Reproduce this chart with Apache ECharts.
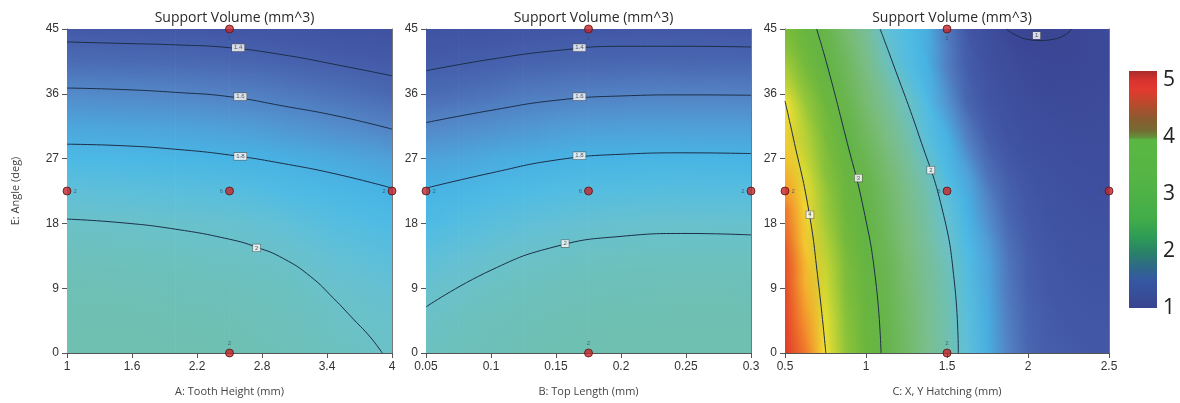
<!DOCTYPE html>
<html><head><meta charset="utf-8">
<script src="https://cdn.jsdelivr.net/npm/echarts@6/dist/echarts.min.js"></script>
<style>html,body{margin:0;padding:0;background:#fff}#c{width:1180px;height:403px}</style>
</head><body><div id="c"></div>
<script>
// ---------------- DATA ----------------
const chartTitle = 'Support Volume (mm^3)';
const angleName = 'E: Angle (deg)';
const xNames = ['A: Tooth Height (mm)', 'B: Top Length (mm)', 'C: X, Y Hatching (mm)'];
const angleTicks = [0, 9, 18, 27, 36, 45];
const toothTicks = [1, 1.6, 2.2, 2.8, 3.4, 4];
const topTicks = [0.05, 0.1, 0.15, 0.2, 0.25, 0.3];
const hatchTicks = [0.5, 1, 1.5, 2, 2.5];
const legendTicks = [1, 2, 3, 4, 5];

// Panel 1: response at A columns (rows = angleRows)
const angleRows = [0, 4.5, 9, 13.5, 18, 22.5, 27, 31.5, 36, 40.5, 45];
const toothCols = [1, 1.5, 2, 2.5, 3, 3.5, 4];
const toothVals = [
  [2.12, 2.11, 2.09, 2.06, 2.01, 1.94, 1.85, 1.74, 1.63, 1.5, 1.34],
  [2.12, 2.11, 2.085, 2.05, 2.0, 1.93, 1.84, 1.73, 1.62, 1.49, 1.33],
  [2.115, 2.1, 2.075, 2.04, 1.99, 1.92, 1.83, 1.72, 1.61, 1.48, 1.32],
  [2.105, 2.09, 2.065, 2.025, 1.975, 1.905, 1.81, 1.7, 1.59, 1.46, 1.3],
  [2.08, 2.065, 2.04, 1.995, 1.945, 1.875, 1.785, 1.67, 1.56, 1.43, 1.28],
  [2.045, 2.02, 1.99, 1.95, 1.9, 1.835, 1.75, 1.635, 1.52, 1.39, 1.25],
  [2.01, 1.99, 1.96, 1.92, 1.87, 1.8, 1.71, 1.59, 1.47, 1.35, 1.22]
];
// Panel 2: response at B columns
const topCols = [0.05, 0.075, 0.1, 0.125, 0.15, 0.175, 0.2, 0.25, 0.3];
const topVals = [
  [2.04, 2.015, 1.98, 1.93, 1.87, 1.805, 1.72, 1.61, 1.49, 1.36, 1.24],
  [2.065, 2.045, 2.002, 1.955, 1.895, 1.825, 1.74, 1.63, 1.51, 1.385, 1.26],
  [2.08, 2.065, 2.03, 1.98, 1.92, 1.85, 1.76, 1.65, 1.53, 1.405, 1.27],
  [2.095, 2.08, 2.05, 1.998, 1.94, 1.87, 1.775, 1.665, 1.56, 1.425, 1.285],
  [2.105, 2.09, 2.065, 2.015, 1.955, 1.885, 1.795, 1.685, 1.575, 1.44, 1.3],
  [2.11, 2.1, 2.075, 2.03, 1.97, 1.895, 1.805, 1.695, 1.585, 1.45, 1.31],
  [2.115, 2.105, 2.08, 2.037, 1.977, 1.9, 1.81, 1.7, 1.59, 1.455, 1.315],
  [2.12, 2.11, 2.085, 2.042, 1.982, 1.905, 1.815, 1.703, 1.595, 1.46, 1.32],
  [2.12, 2.11, 2.083, 2.04, 1.98, 1.903, 1.813, 1.702, 1.593, 1.458, 1.318]
];
// Panel 3: response along C (columns) for each angle row
const hatchCols = [0.5, 0.625, 0.75, 0.875, 1, 1.125, 1.25, 1.375, 1.5, 1.625, 1.75, 1.875, 2, 2.125, 2.25, 2.375, 2.5];
const hatchRows = [0, 5, 10, 15, 20, 25, 30, 35, 40, 45];
const hatchVals = [
  [5.0, 4.5, 4.01, 3.6, 3.25, 2.93, 2.67, 2.41, 2.15, 1.94, 1.78, 1.6, 1.46, 1.39, 1.36, 1.34, 1.34],
  [4.88, 4.37, 3.93, 3.53, 3.2, 2.9, 2.64, 2.38, 2.13, 1.92, 1.77, 1.58, 1.44, 1.36, 1.32, 1.3, 1.3],
  [4.8, 4.24, 3.83, 3.45, 3.13, 2.84, 2.59, 2.34, 2.09, 1.9, 1.74, 1.55, 1.41, 1.33, 1.29, 1.27, 1.27],
  [4.7, 4.13, 3.74, 3.37, 3.05, 2.77, 2.52, 2.28, 2.02, 1.86, 1.7, 1.52, 1.38, 1.3, 1.25, 1.23, 1.23],
  [4.5, 4.06, 3.64, 3.28, 2.97, 2.7, 2.45, 2.2, 1.95, 1.8, 1.62, 1.45, 1.33, 1.25, 1.21, 1.19, 1.19],
  [4.25, 3.88, 3.52, 3.18, 2.88, 2.61, 2.36, 2.07, 1.87, 1.72, 1.52, 1.37, 1.27, 1.2, 1.17, 1.15, 1.15],
  [4.1, 3.75, 3.4, 3.0, 2.73, 2.47, 2.2, 1.92, 1.8, 1.58, 1.4, 1.25, 1.17, 1.13, 1.11, 1.1, 1.11],
  [4.0, 3.62, 3.27, 2.88, 2.58, 2.32, 2.04, 1.87, 1.66, 1.44, 1.28, 1.17, 1.1, 1.07, 1.06, 1.06, 1.08],
  [3.68, 3.36, 3.04, 2.74, 2.45, 2.08, 1.9, 1.8, 1.58, 1.38, 1.2, 1.1, 1.03, 1.01, 1.02, 1.03, 1.05],
  [3.42, 3.16, 2.9, 2.6, 2.32, 1.95, 1.88, 1.78, 1.55, 1.3, 1.15, 1.0, 0.975, 0.97, 0.995, 1.03, 1.07]
];

// Contour lines [x, angle]
const toothC14 = [[1,43.2],[1.5,43.0],[2,42.8],[2.5,42.4],[3,41.4],[3.5,40.0],[4,38.5]];
const toothC16 = [[1,36.8],[1.5,36.6],[2,36.2],[2.5,35.6],[3,34.3],[3.5,32.9],[4,31.1]];
const toothC18 = [[1,29.0],[1.5,28.8],[2,28.3],[2.5,27.5],[3,26.3],[3.5,24.8],[4,22.9]];
const toothC20 = [[1,18.6],[1.5,18.1],[2,17.2],[2.5,15.8],[2.75,14.7],[3,13.1],[3.25,10.6],[3.46,7.6],[3.65,4.6],[3.8,2.2],[3.91,0]];
const topC14 = [[0.05,39.2],[0.1,40.8],[0.15,42.0],[0.2,42.6],[0.25,42.6],[0.3,42.5]];
const topC16 = [[0.05,32.0],[0.1,33.7],[0.15,35.1],[0.2,35.7],[0.25,35.85],[0.3,35.8]];
const topC18 = [[0.05,22.9],[0.1,25.0],[0.15,26.8],[0.2,27.6],[0.25,27.8],[0.3,27.7]];
const topC20 = [[0.05,6.4],[0.1,11.5],[0.15,14.8],[0.2,16.2],[0.25,16.6],[0.3,16.4]];
const hatchC4 = [[0.752,0],[0.705,10],[0.645,20],[0.55,30],[0.5,35]];
const hatchC3 = [[1.093,0],[1.06,10],[0.985,20],[0.875,30],[0.76,40],[0.695,45]];
const hatchC2 = [[1.57,0],[1.545,10],[1.47,20],[1.33,30],[1.17,40],[1.087,45]];
const hatchC1 = [[1.868,45],[1.92,44.2],[2.0,43.55],[2.074,43.4],[2.15,43.55],[2.23,44.2],[2.27,45]];

// Contour label boxes [x, angle, text]
const toothLabels = [[2.58,42.4,'1.4'],[2.6,35.6,'1.6'],[2.6,27.3,'1.8'],[2.75,14.6,'2']];
const topLabels = [[0.168,42.4,'1.4'],[0.168,35.6,'1.6'],[0.168,27.4,'1.8'],[0.157,15.2,'2']];
const hatchLabels = [[0.654,19.2,'4'],[0.953,24.3,'3'],[1.40,25.4,'2'],[2.053,44.1,'1']];

// Design points [x, angle, replicate count]
const toothPts = [[1,22.5,'2'],[2.5,22.5,'6'],[4,22.5,'2'],[2.5,45,'1'],[2.5,0,'2']];
const topPts = [[0.05,22.5,'2'],[0.175,22.5,'6'],[0.3,22.5,'2'],[0.175,45,'1'],[0.175,0,'2']];
const hatchPts = [[0.5,22.5,'2'],[1.5,22.5,'6'],[2.5,22.5,'2'],[1.5,45,'1'],[1.5,0,'2']];

// ---------------- STYLE ----------------
const cmapV = [0.95,1.0,1.15,1.3,1.4,1.5,1.6,1.7,1.8,1.87,1.95,2.0,2.1,2.25,2.5,2.8,3.0,3.3,3.6,3.85,4.0,4.3,4.5,4.8,5.0];
const cmapC = ['#39438f','#3b4796','#3e4e9e','#4156a5','#455eab','#4b6cb5','#5483c4','#509ed7','#46b3e4','#4ebbe5','#62c0d6','#6bc1c9','#6ec0b3','#76bfa1','#7cbd7e','#6cb653','#61b345','#6cb63c','#8fc43a','#d2da31','#f1e132','#f6a92c','#f0772b','#e6482a','#e0392a'];
function cmap(v){
  if (v <= cmapV[0]) return cmapC[0];
  for (let k = 1; k < cmapV.length; k++) {
    if (v <= cmapV[k]) {
      const t = (v - cmapV[k-1]) / (cmapV[k] - cmapV[k-1]);
      return echarts.color.lerp(t, [cmapC[k-1], cmapC[k]]);
    }
  }
  return cmapC[cmapC.length-1];
}
const barStops = [[0,'#a82c28'],[0.04,'#d83330'],[0.08,'#e23a2e'],[0.14,'#b84a2c'],[0.2,'#8c5a30'],[0.25,'#746c32'],[0.28,'#64903a'],[0.29,'#5ab742'],[0.45,'#55b544'],[0.62,'#42ad48'],[0.7,'#2e9c55'],[0.76,'#2a8466'],[0.82,'#2d6c84'],[0.88,'#3558a2'],[1,'#3a4490']];

const lineColor = '#1c2e48';
const tickFont = {fontFamily:'Liberation Sans, Arial, sans-serif', fontSize:12, color:'#333'};
const nameFont = {fontFamily:'Open Sans, sans-serif', fontSize:11, color:'#444'};
const STRIP = 2; // px, width of blending strips between sampled columns/rows

const chart = echarts.init(document.getElementById('c'));

const panels = [
  {left:67, width:325, min:1, max:4, ticks:toothTicks},
  {left:426, width:325, min:0.05, max:0.3, ticks:topTicks},
  {left:785, width:324, min:0.5, max:2.5, ticks:hatchTicks}
];
const top0 = 29, h0 = 324;
const grids = panels.map(p => ({left:p.left, top:top0, width:p.width, height:h0}));
grids.push({left:1129, top:80, width:28, height:228});

const xAxes = [], yAxes = [];
panels.forEach((p, i) => {
  xAxes.push({gridIndex:i, type:'value', min:p.min, max:p.max,
    name:xNames[i], nameLocation:'middle', nameGap:33, nameTextStyle:nameFont,
    axisLine:{show:true, onZero:false, lineStyle:{color:'#555', width:1}},
    axisTick:{show:true, length:5, customValues:p.ticks, lineStyle:{color:'#555'}},
    axisLabel:{customValues:p.ticks, margin:8, ...tickFont},
    splitLine:{show:false}});
  yAxes.push({gridIndex:i, type:'value', min:0, max:45, interval:9,
    name: i === 0 ? angleName : '', nameLocation:'middle', nameGap:46, nameRotate:90, nameTextStyle:nameFont,
    axisLine:{show:true, onZero:false, lineStyle:{color:'#555', width:1}},
    axisTick:{show:true, length:5, lineStyle:{color:'#555'}},
    axisLabel:{margin:8, ...tickFont},
    splitLine:{show:false}});
});
// colorbar axes
xAxes.push({gridIndex:3, type:'value', min:0, max:1, show:false});
yAxes.push({gridIndex:3, type:'value', min:1, max:5, interval:1, position:'right',
  axisLine:{show:false}, axisTick:{show:false}, splitLine:{show:false},
  axisLabel:{margin:6, fontFamily:'Open Sans, sans-serif', fontSize:21, color:'#222'}});
// frame axes (top / right borders)
panels.forEach((p, i) => {
  xAxes.push({gridIndex:i, type:'value', min:p.min, max:p.max, position:'top',
    axisLine:{show:true, onZero:false, lineStyle:{color:'#8a8a8a', width:1}}, axisTick:{show:false}, axisLabel:{show:false}, splitLine:{show:false}});
  yAxes.push({gridIndex:i, type:'value', min:0, max:45, position:'right',
    axisLine:{show:true, onZero:false, lineStyle:{color:'#777', width:1}}, axisTick:{show:false}, axisLabel:{show:false}, splitLine:{show:false}});
});

const aMin = angleRows[0], aMax = angleRows[angleRows.length-1];

// local slope of a read contour line near a given axis position, in pixels
function slopeNear(api, c, pos, byRows){
  const idx = byRows ? 1 : 0;
  let j = 0;
  while (j < c.length - 2 && c[j+1][idx] < pos) j++;
  const p0 = api.coord(c[j]), p1 = api.coord(c[j+1]);
  const dx = p1[0]-p0[0], dy = p1[1]-p0[1];
  if (byRows) return Math.abs(dy) > 1e-6 ? dx/dy : 0;
  return Math.abs(dx) > 1e-6 ? dy/dx : 0;
}
function meanSlope(api, lines, pos, byRows){
  let s = 0;
  lines.forEach(c => { s += slopeNear(api, c, pos, byRows); });
  return s / lines.length;
}

// Each sampled column: tilted vertical gradient; opaque up to the next column, faded in from the previous one.
function columnField(gi, cols, vals, guide){
  return {type:'custom', xAxisIndex:gi, yAxisIndex:gi, clip:true, silent:true, z:1,
    data: cols.map((c, i) => [i]),
    renderItem(params, api){
      const i = api.value(0);
      const pTop = api.coord([cols[i], aMax]), pBot = api.coord([cols[i], aMin]);
      const xc = pTop[0], yTop = pTop[1], H = pBot[1] - yTop;
      const m = meanSlope(api, guide, cols[i], false);
      const k = H / (1 + m*m);
      const stops = [];
      for (let r = angleRows.length - 1; r >= 0; r--) {
        stops.push({offset:(aMax - angleRows[r]) / (aMax - aMin), color:cmap(vals[i][r])});
      }
      const grad = () => new echarts.graphic.LinearGradient(xc, yTop, xc - m*k, yTop + k, stops, true);
      const children = [];
      const xEnd = i === cols.length - 1 ? xc + 2 : api.coord([cols[i+1], aMax])[0];
      children.push({type:'rect', shape:{x:xc - 0.2, y:yTop - 30, width:xEnd - xc + 0.4, height:H + 60}, style:{fill:grad()}});
      if (i > 0) {
        const xs = api.coord([cols[i-1], aMax])[0];
        const n = Math.max(1, Math.round((xc - xs) / STRIP));
        const w = (xc - xs) / n;
        for (let q = 0; q < n; q++) {
          children.push({type:'rect', shape:{x:xs + q*w, y:yTop - 30, width:w + 0.25, height:H + 60},
            style:{fill:grad(), opacity:(q + 0.5) / n}});
        }
      }
      return {type:'group', children};
    }};
}
// Each sampled row: tilted horizontal gradient; opaque up to the next row, faded in from the previous one.
function rowField(gi, cols, rows, vals, xmin, xmax, guide){
  return {type:'custom', xAxisIndex:gi, yAxisIndex:gi, clip:true, silent:true, z:1,
    data: rows.map((r, i) => [i]),
    renderItem(params, api){
      const i = api.value(0);
      const pL = api.coord([xmin, rows[i]]), pR = api.coord([xmax, rows[i]]);
      const yc = pL[1], xL = pL[0], W = pR[0] - xL;
      const s = meanSlope(api, guide, rows[i], true);
      const k = W / (1 + s*s);
      const stops = cols.map((c, q) => ({offset:(c - xmin)/(xmax - xmin), color:cmap(vals[i][q])}));
      const grad = () => new echarts.graphic.LinearGradient(xL, yc, xL + k, yc - s*k, stops, true);
      const children = [];
      const yEnd = i === rows.length - 1 ? yc - 2 : api.coord([xmin, rows[i+1]])[1];
      children.push({type:'rect', shape:{x:xL - 30, y:yEnd - 0.2, width:W + 60, height:yc - yEnd + 0.4}, style:{fill:grad()}});
      if (i > 0) {
        const ys = api.coord([xmin, rows[i-1]])[1];
        const n = Math.max(1, Math.round((ys - yc) / STRIP));
        const h = (ys - yc) / n;
        for (let q = 0; q < n; q++) {
          children.push({type:'rect', shape:{x:xL - 30, y:ys - (q+1)*h, width:W + 60, height:h + 0.25},
            style:{fill:grad(), opacity:(q + 0.5) / n}});
        }
      }
      return {type:'group', children};
    }};
}
function contour(gi, pts){
  return {type:'line', xAxisIndex:gi, yAxisIndex:gi, data:pts, smooth:0.5, symbol:'none', silent:true, z:3,
    lineStyle:{color:lineColor, width:1}};
}
function labels(gi, arr){
  return {type:'scatter', xAxisIndex:gi, yAxisIndex:gi, silent:true, z:5, symbolSize:1, clip:false,
    itemStyle:{color:'rgba(0,0,0,0)'},
    data: arr.map(d => ({value:[d[0], d[1]], name:d[2]})),
    label:{show:true, position:'inside', formatter:'{b}', fontSize:6, fontFamily:'Liberation Sans, sans-serif',
      color:'#333', backgroundColor:'#fff', borderColor:'#555', borderWidth:0.6, padding:[1,2,0,2]}};
}
function points(gi, arr, xmin, xmax){
  return {type:'scatter', xAxisIndex:gi, yAxisIndex:gi, silent:true, z:6, symbolSize:8, clip:false,
    itemStyle:{color:'#c4262b', borderColor:'#5a1414', borderWidth:1},
    data: arr.map(d => {
      let pos = 'left';
      if (d[0] === xmin) pos = 'right';
      else if (d[1] === 45) pos = 'bottom';
      else if (d[1] === 0) pos = 'top';
      return {value:[d[0], d[1]], name:d[2], label:{position:pos}};
    }),
    label:{show:true, formatter:'{b}', fontSize:6, distance:2, color:'#2d5560', fontFamily:'Liberation Sans, sans-serif'}};
}

const series = [
  columnField(0, toothCols, toothVals, [toothC14, toothC16, toothC18]),
  columnField(1, topCols, topVals, [topC14, topC16, topC18]),
  rowField(2, hatchCols, hatchRows, hatchVals, 0.5, 2.5, [hatchC3, hatchC2]),
  contour(0, toothC14), contour(0, toothC16), contour(0, toothC18), contour(0, toothC20),
  contour(1, topC14), contour(1, topC16), contour(1, topC18), contour(1, topC20),
  contour(2, hatchC4), contour(2, hatchC3), contour(2, hatchC2), contour(2, hatchC1),
  labels(0, toothLabels), labels(1, topLabels), labels(2, hatchLabels),
  points(0, toothPts, 1, 4), points(1, topPts, 0.05, 0.3), points(2, hatchPts, 0.5, 2.5),
  {type:'custom', xAxisIndex:3, yAxisIndex:3, clip:false, silent:true, data:[[0]],
    renderItem(params, api){
      const p0 = api.coord([0, 5.16]), p1 = api.coord([1, 1]);
      return {type:'rect', shape:{x:p0[0], y:p0[1], width:p1[0]-p0[0], height:p1[1]-p0[1]},
        style:{fill:new echarts.graphic.LinearGradient(0,0,0,1, barStops.map(s => ({offset:s[0], color:s[1]})))}};
    }}
];

const titles = panels.map(p => ({text:chartTitle, left:p.left + p.width/2, top:6, textAlign:'center',
  textStyle:{fontFamily:'Open Sans, sans-serif', fontSize:14, fontWeight:'normal', color:'#2a2a2a'}}));

chart.setOption({animation:false, backgroundColor:'#fff', title:titles, grid:grids, xAxis:xAxes, yAxis:yAxes, series:series});
</script></body></html>
